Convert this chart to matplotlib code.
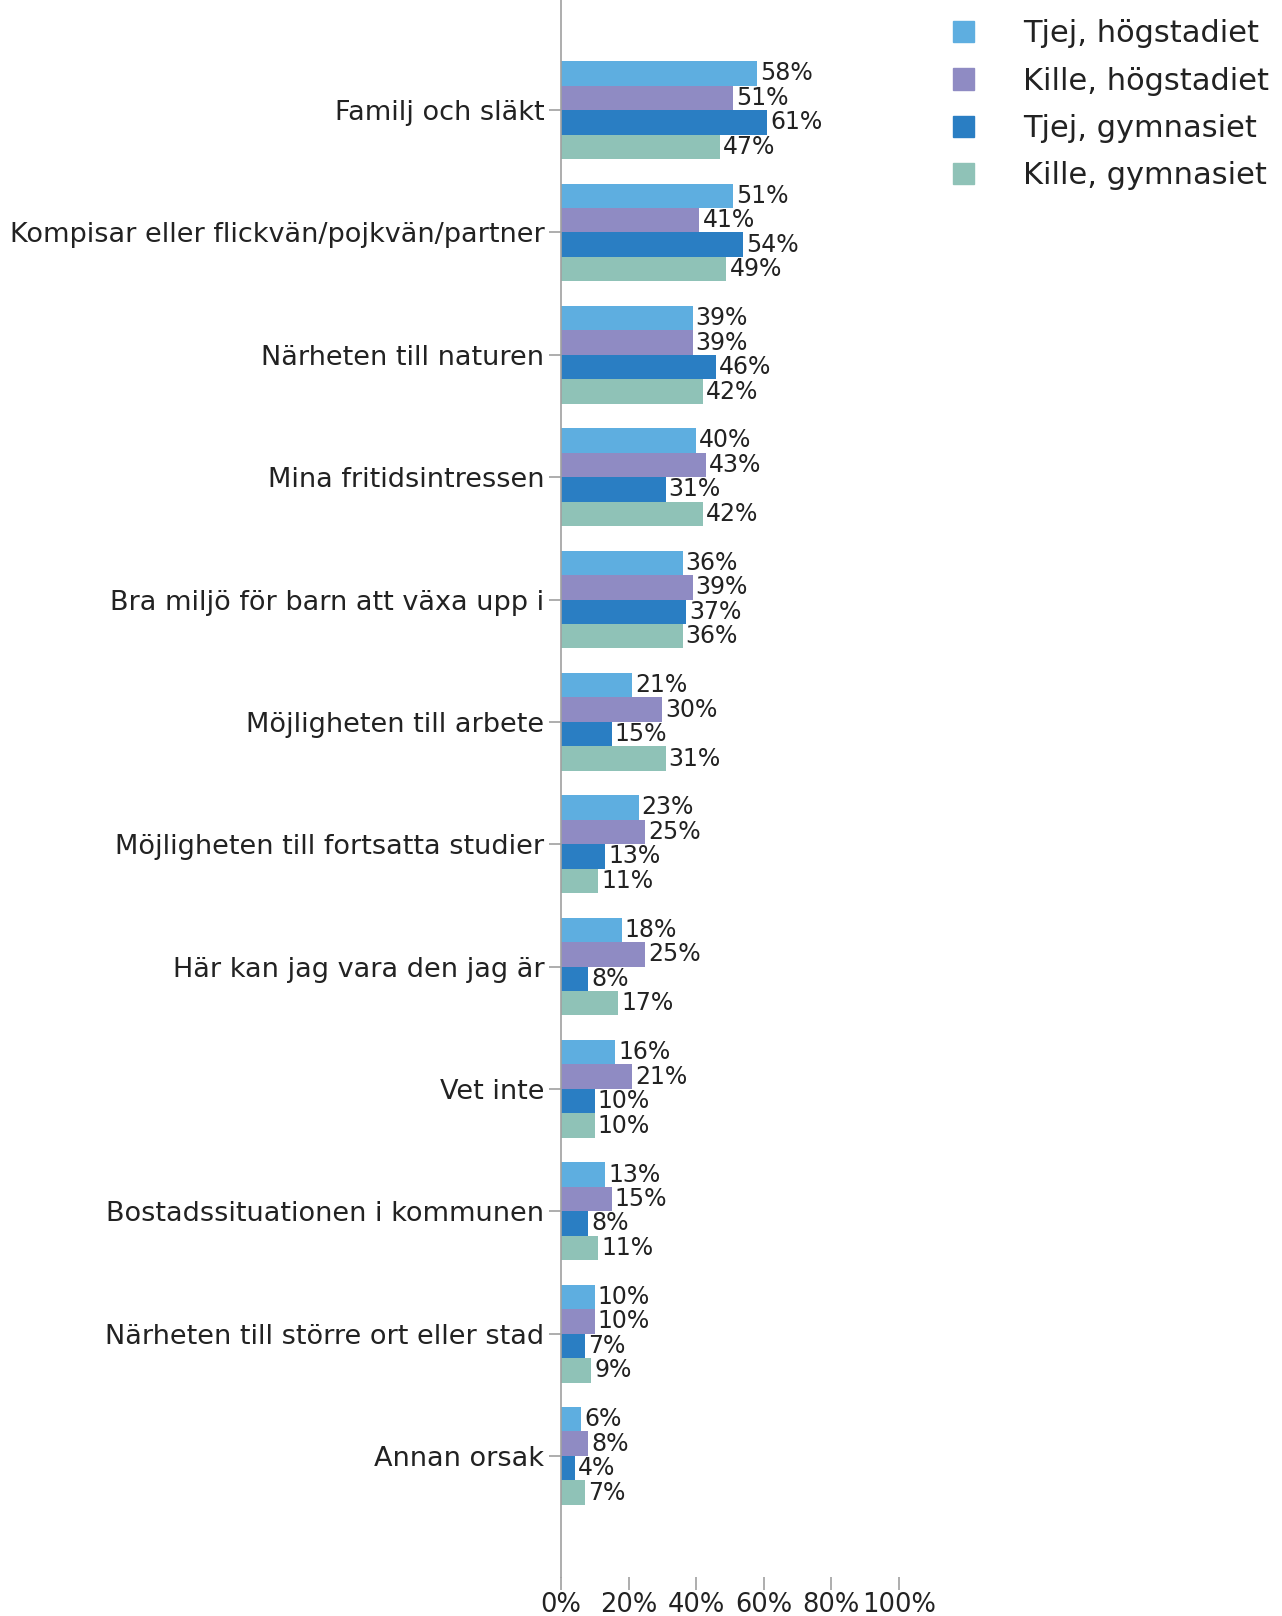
import matplotlib
matplotlib.use("Agg")
import matplotlib.pyplot as plt
import numpy as np

categories = [
    "Familj och släkt",
    "Kompisar eller flickvän/pojkvän/partner",
    "Närheten till naturen",
    "Mina fritidsintressen",
    "Bra miljö för barn att växa upp i",
    "Möjligheten till arbete",
    "Möjligheten till fortsatta studier",
    "Här kan jag vara den jag är",
    "Vet inte",
    "Bostadssituationen i kommunen",
    "Närheten till större ort eller stad",
    "Annan orsak",
]
series_names = ["Tjej, högstadiet", "Kille, högstadiet", "Tjej, gymnasiet", "Kille, gymnasiet"]
tjej_hog = [58, 51, 39, 40, 36, 21, 23, 18, 16, 13, 10, 6]
kille_hog = [51, 41, 39, 43, 39, 30, 25, 25, 21, 15, 10, 8]
tjej_gym = [61, 54, 46, 31, 37, 15, 13, 8, 10, 8, 7, 4]
kille_gym = [47, 49, 42, 42, 36, 31, 11, 17, 10, 11, 9, 7]
xticks = [0, 20, 40, 60, 80, 100]
xtick_labels = ["0%", "20%", "40%", "60%", "80%", "100%"]

colors = ["#5EAEE0", "#8F8BC3", "#2A7EC3", "#8FC2B7"]
series = [tjej_hog, kille_hog, tjej_gym, kille_gym]

plt.rcParams['font.family'] = ['DejaVu Sans']

fig = plt.figure(figsize=(12.82, 16.16), dpi=100)
ax = fig.add_axes([0.4376, 0.0241, 0.2634, 0.9759])

n = len(categories)
y = np.arange(n)
h = 0.2
text_color = "#222222"
for i, (vals, c, name) in enumerate(zip(series, colors, series_names)):
    ypos = y - 0.3 + i * h
    ax.barh(ypos, vals, height=h, color=c, label=name, linewidth=0)
    for yy, v in zip(ypos, vals):
        ax.text(v + 0.9, yy, f"{v}%", va="center", ha="left", fontsize=17, color=text_color)

ax.set_ylim(n - 1 + 0.99, -0.9)
ax.set_xlim(0, 100)
ax.set_yticks(y)
ax.set_yticklabels(categories, fontsize=19.5, color=text_color)
ax.set_xticks(xticks)
ax.set_xticklabels(xtick_labels, fontsize=18.5, color=text_color)

for s in ["top", "right", "bottom"]:
    ax.spines[s].set_visible(False)
ax.spines["left"].set_color("#a0a0a0")
ax.spines["left"].set_linewidth(1.2)
ax.tick_params(axis="y", length=9, color="#a0a0a0", width=1.2, pad=3)
ax.tick_params(axis="x", length=9, color="#a0a0a0", width=1.2, pad=1.5)

handles = [plt.Rectangle((0, 0), 1, 1, color=c) for c in colors]
fig.legend(handles, series_names, loc="upper left", bbox_to_anchor=(0.722, 1.005),
           frameon=False, fontsize=22, handlelength=0.7, handleheight=0.7,
           handletextpad=1.6, labelspacing=0.6, labelcolor=text_color)

fig.savefig("out.png", dpi=100)
